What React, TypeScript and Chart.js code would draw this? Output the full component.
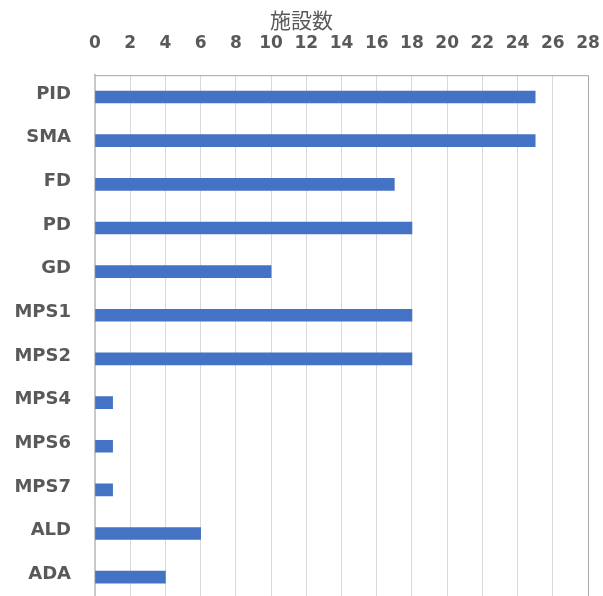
import React, { useEffect, useRef } from "react";
import { Chart, registerables } from "chart.js";

Chart.register(...registerables);

const categories = ["PID", "SMA", "FD", "PD", "GD", "MPS1", "MPS2", "MPS4", "MPS6", "MPS7", "ALD", "ADA"];
const facilityCounts = [25, 25, 17, 18, 10, 18, 18, 1, 1, 1, 6, 4];
const axisTitle = "施設数";
const xMin = 0;
const xMax = 28;
const xStep = 2;

const borderPlugin = {
  id: "plotBorder",
  afterDraw(chart: any) {
    const { ctx, chartArea } = chart;
    ctx.save();
    ctx.strokeStyle = "#a6a6a6";
    ctx.lineWidth = 1;
    ctx.beginPath();
    ctx.moveTo(chartArea.left, chartArea.top + 0.5);
    ctx.lineTo(chartArea.right + 0.5, chartArea.top + 0.5);
    ctx.lineTo(chartArea.right + 0.5, chartArea.bottom);
    ctx.stroke();
    ctx.restore();
  },
};

export default function App() {
  const ref = useRef<HTMLCanvasElement>(null);
  useEffect(() => {
    if (!ref.current) return;
    const chart = new Chart(ref.current, {
      type: "bar",
      data: {
        labels: categories,
        datasets: [
          {
            data: facilityCounts,
            backgroundColor: "#4472C4",
            borderWidth: 0,
            barThickness: 12,
          },
        ],
      },
      options: {
        indexAxis: "y",
        animation: false,
        responsive: false,
        layout: { padding: { top: 0, right: 15, bottom: 0, left: 15 } },
        plugins: {
          legend: { display: false },
          tooltip: { enabled: false },
          title: {
            display: true,
            text: axisTitle,
            color: "#595959",
            padding: { top: 7, bottom: 0 },
            font: { family: "'Noto Sans CJK JP'", size: 21, weight: "normal", lineHeight: 1.2 },
          },
        },
        scales: {
          x: {
            position: "top",
            min: xMin,
            max: xMax,
            ticks: {
              stepSize: xStep,
              color: "#595959",
              padding: 21,
              font: { family: "'DejaVu Sans'", size: 17, weight: "bold" },
            },
            grid: { color: "#d9d9d9", drawTicks: false },
            border: { display: false },
            afterFit(scale: any) {
              scale.height = 43;
              scale.paddingLeft = 0;
              scale.paddingRight = 0;
            },
          },
          y: {
            ticks: {
              color: "#595959",
              padding: 24,
              labelOffset: -3,
              font: { family: "'DejaVu Sans'", size: 18, weight: "bold" },
            },
            grid: { display: false, drawTicks: false },
            border: { display: true, color: "#c8c8c8", width: 2 },
            afterFit(scale: any) {
              scale.width = 80;
              scale.paddingTop = 0;
              scale.paddingBottom = 0;
            },
          },
        },
      },
      plugins: [borderPlugin],
    } as any);
    return () => chart.destroy();
  }, []);
  return (
    <div style={{ position: "absolute", left: 0, top: 0, width: 603, height: 599, background: "#fff" }}>
      <canvas ref={ref} width={603} height={599} style={{ display: "block" }} />
    </div>
  );
}
